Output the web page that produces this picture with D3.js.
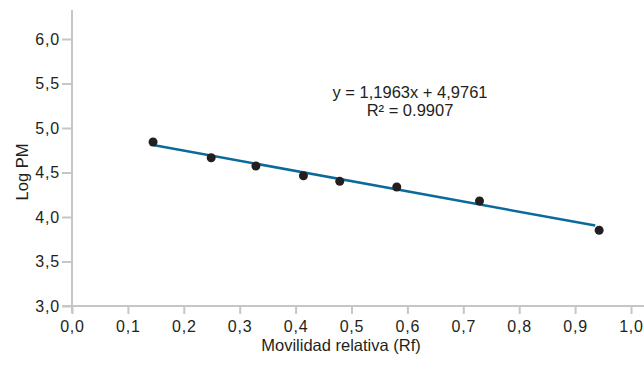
<!DOCTYPE html>
<html>
<head>
<meta charset="utf-8">
<script src="https://cdn.jsdelivr.net/npm/d3@7"></script>
<style>
  body { margin: 0; background: #fff; }
  svg text { font-family: "Liberation Sans", Arial, sans-serif; fill: #231f20; }
  .tick text { font-size: 16px; letter-spacing: 0.8px; }
</style>
</head>
<body>
<svg id="chart" width="644" height="374"></svg>
<script>
  // measured points (Rf vs Log PM)
  var rfValues = [0.145, 0.249, 0.329, 0.414, 0.479, 0.581, 0.729, 0.943];
  var logPmValues = [4.843, 4.666, 4.573, 4.464, 4.401, 4.337, 4.180, 3.851];

  // trend line ends
  var fitX = [0.145, 0.936];
  var fitY = [4.809, 3.904];

  var xTicks = [0, 0.1, 0.2, 0.3, 0.4, 0.5, 0.6, 0.7, 0.8, 0.9, 1.0];
  var yTicks = [3.0, 3.5, 4.0, 4.5, 5.0, 5.5, 6.0];
  var equationLines = ['y = 1,1963x + 4,9761', 'R² = 0.9907'];

  var svg = d3.select('#chart');
  var axisColor = '#c6c6c8';
  var comma = function(d) { return d3.format('.1f')(d).replace('.', ','); };

  var x = d3.scaleLinear().domain([0, 1]).range([72, 631]);
  var y = d3.scaleLinear().domain([3, 6]).range([306, 39]);

  // x axis
  var xAxis = svg.append('g')
    .attr('transform', 'translate(0,306)')
    .call(d3.axisBottom(x).tickValues(xTicks).tickFormat(comma).tickSize(8).tickPadding(7));
  xAxis.select('.domain').remove();
  xAxis.append('line')
    .attr('x1', 62).attr('x2', 644).attr('y1', 0).attr('y2', 0);

  // y axis
  var yAxis = svg.append('g')
    .attr('transform', 'translate(72,0)')
    .call(d3.axisLeft(y).tickValues(yTicks).tickFormat(comma).tickSize(10).tickPadding(2));
  yAxis.select('.domain').remove();
  yAxis.append('line')
    .attr('x1', 0).attr('x2', 0).attr('y1', 10).attr('y2', 313);

  svg.selectAll('line').attr('stroke', axisColor).attr('stroke-width', 2);
  svg.selectAll('.tick text').attr('fill', '#231f20');

  // trend line
  svg.append('path')
    .datum(d3.zip(fitX, fitY))
    .attr('fill', 'none')
    .attr('stroke', '#0b6a9c')
    .attr('stroke-width', 2.5)
    .attr('d', d3.line()
      .x(function(d) { return x(d[0]); })
      .y(function(d) { return y(d[1]); }));

  // points
  svg.append('g').selectAll('circle')
    .data(d3.zip(rfValues, logPmValues))
    .enter().append('circle')
    .attr('cx', function(d) { return x(d[0]); })
    .attr('cy', function(d) { return y(d[1]); })
    .attr('r', 4.5)
    .attr('fill', '#231f20');

  // equation
  svg.selectAll('text.eq')
    .data(equationLines)
    .enter().append('text')
    .attr('class', 'eq')
    .attr('x', 410)
    .attr('y', function(d, i) { return 97.5 + i * 18; })
    .attr('text-anchor', 'middle')
    .style('font-size', '16.5px')
    .text(function(d) { return d; });

  // axis titles
  svg.append('text')
    .attr('x', 341).attr('y', 351)
    .attr('text-anchor', 'middle')
    .style('font-size', '16.5px')
    .text('Movilidad relativa (Rf)');
  svg.append('text')
    .attr('transform', 'translate(28,172) rotate(-90)')
    .attr('text-anchor', 'middle')
    .style('font-size', '16.5px')
    .text('Log PM');
</script>
</body>
</html>
